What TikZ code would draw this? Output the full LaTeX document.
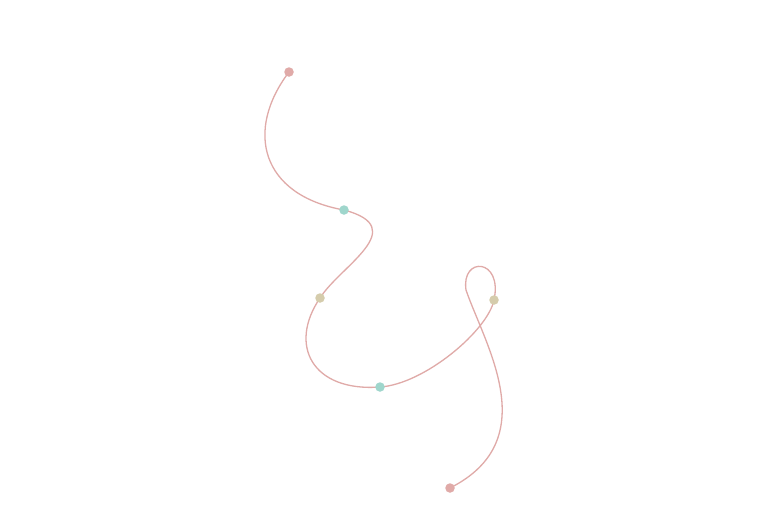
\documentclass[tikz,border=0pt]{standalone}
\begin{document}
\begin{tikzpicture}[x=1pt,y=-1pt,
  curveline/.style={draw=pinkc,line width=1.3pt},
  dotp/.style={circle,fill=pinkc,inner sep=0pt,minimum size=9.5pt},
  dott/.style={circle,fill=tealc,inner sep=0pt,minimum size=9.5pt},
  dotb/.style={circle,fill=tanc,inner sep=0pt,minimum size=9.5pt}]
\definecolor{pinkc}{HTML}{E0AAA8}
\definecolor{tealc}{HTML}{9FD6CC}
\definecolor{tanc}{HTML}{D5CCAC}
\useasboundingbox[fill=white] (0,0) rectangle (768,512);
\coordinate (p1) at (289,72);
\coordinate (p2) at (344,210);
\coordinate (p3) at (320,298);
\coordinate (p4) at (380,387);
\coordinate (p5) at (494,300);
\coordinate (lp) at (466,290);
\coordinate (p6) at (450,488);
\draw[curveline] (p1) .. controls (245,130) and (260,195) .. (p2)
  .. controls (412,228) and (340,266) .. (p3)
  .. controls (288,345) and (312,392) .. (p4)
  .. controls (425,384) and (488,330) .. (p5)
  .. controls (503,258) and (461,256) .. (lp)
  .. controls (485,345) and (545,440) .. (p6);
\node[dotp] (n1) at (p1) {};
\node[dott] (n2) at (p2) {};
\node[dotb] (n3) at (p3) {};
\node[dott] (n4) at (p4) {};
\node[dotb] (n5) at (p5) {};
\node[dotp] (n6) at (p6) {};
\end{tikzpicture}
\end{document}
